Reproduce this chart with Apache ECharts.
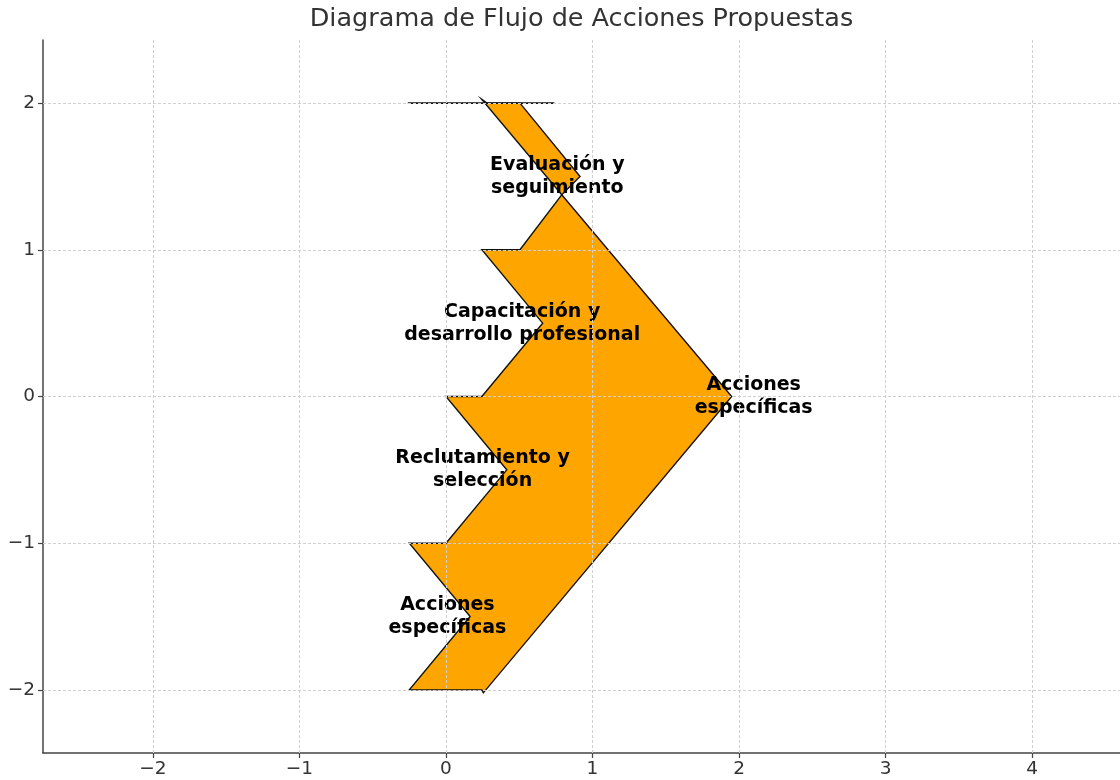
<!DOCTYPE html>
<html>
<head>
<meta charset="utf-8">
<script src="https://cdn.jsdelivr.net/npm/echarts@6/dist/echarts.min.js"></script>
<style>
  html, body { margin: 0; padding: 0; background: #fff; }
  #chart { width: 1120px; height: 780px; }
</style>
</head>
<body>
<div id="chart"></div>
<script>
// flecha superior (evaluación)
var shapeTop = [[0.245, 2.025], [0.28, 2.0], [0.505, 2.0], [0.915, 1.5], [0.79, 1.375]];
// flecha grande
var shapeMain = [
    [0.79, 1.375], [1.95, 0.0], [0.255, -2.02], [0.245, -2.0], [-0.25, -2.0],
    [0.165, -1.5], [-0.25, -1.0], [0.0, -1.0], [0.415, -0.5], [0.0, 0.0],
    [0.245, 0.0], [0.66, 0.5], [0.245, 1.0], [0.505, 1.0]
];
var topLine = [[-0.26, 2.0], [0.74, 2.0]];

var labelNames = ['Evaluación y\nseguimiento', 'Capacitación y\ndesarrollo profesional',
    'Reclutamiento y\nselección', 'Acciones\nespecíficas', 'Acciones\nespecíficas'];
var labelX = [0.76, 0.52, 0.25, 0.01, 2.1];
var labelY = [1.5, 0.5, -0.5, -1.5, 0.0];

var xTicks = [-2, -1, 0, 1, 2, 3, 4];
var yTicks = [-2, -1, 0, 1, 2];

var shapes = [shapeMain, shapeTop];

var myChart = echarts.init(document.getElementById('chart'));

var font = 'DejaVu Sans';
var minus = function (v) { return String(v).replace('-', '\u2212'); };

var gridLines = xTicks.map(function (v) { return { xAxis: v }; })
    .concat(yTicks.map(function (v) { return { yAxis: v }; }));

var option = {
    animation: false,
    graphic: [{
        type: 'text',
        x: 581.5,
        y: 6,
        style: {
            text: 'Diagrama de Flujo de Acciones Propuestas',
            textAlign: 'center',
            fontFamily: font,
            fontSize: 25.5,
            fill: '#333'
        }
    }],
    grid: { left: 43, right: 0, top: 40, bottom: 27 },
    xAxis: {
        type: 'value',
        min: -2.75,
        max: 4.6,
        splitLine: { show: false },
        axisLine: { onZero: false, lineStyle: { color: '#444', width: 1.5 } },
        axisTick: { customValues: xTicks, length: 5, lineStyle: { color: '#444', width: 1.2 } },
        axisLabel: {
            customValues: xTicks, formatter: minus, margin: 7,
            fontFamily: font, fontSize: 18.5, color: '#333'
        }
    },
    yAxis: {
        type: 'value',
        min: -2.43,
        max: 2.43,
        splitLine: { show: false },
        axisLine: { onZero: false, lineStyle: { color: '#444', width: 1.5 } },
        axisTick: { customValues: yTicks, length: 5, lineStyle: { color: '#444', width: 1.2 } },
        axisLabel: {
            customValues: yTicks, formatter: minus, margin: 8,
            fontFamily: font, fontSize: 18.5, color: '#333'
        }
    },
    series: [{
        // rejilla discontinua
        type: 'line',
        data: [],
        silent: true,
        z: 1,
        markLine: {
            silent: true,
            symbol: ['none', 'none'],
            label: { show: false },
            lineStyle: { color: '#d0d0d0', type: [3, 2], width: 1 },
            data: gridLines
        }
    }, {
        type: 'custom',
        z: 2,
        data: shapes.map(function (s, i) { return [i]; }),
        renderItem: function (params, api) {
            var pts = shapes[params.dataIndex].map(function (p) { return api.coord(p); });
            return {
                type: 'polygon',
                shape: { points: pts },
                style: { fill: '#FFA500', stroke: '#111', lineWidth: 1.4 }
            };
        }
    }, {
        type: 'line',
        z: 3,
        data: topLine,
        symbol: 'none',
        lineStyle: { color: '#111', width: 1.6 }
    }, {
        type: 'scatter',
        z: 4,
        symbolSize: 0,
        itemStyle: { opacity: 1 },
        data: labelNames.map(function (n, i) { return { name: n, value: [labelX[i], labelY[i]] }; }),
        label: {
            show: true,
            position: 'inside',
            formatter: '{b}',
            fontFamily: font,
            fontWeight: 'bold',
            fontSize: 19,
            lineHeight: 23,
            color: '#000',
            opacity: 1,
            align: 'center'
        }
    }]
};

myChart.setOption(option);
</script>
</body>
</html>
